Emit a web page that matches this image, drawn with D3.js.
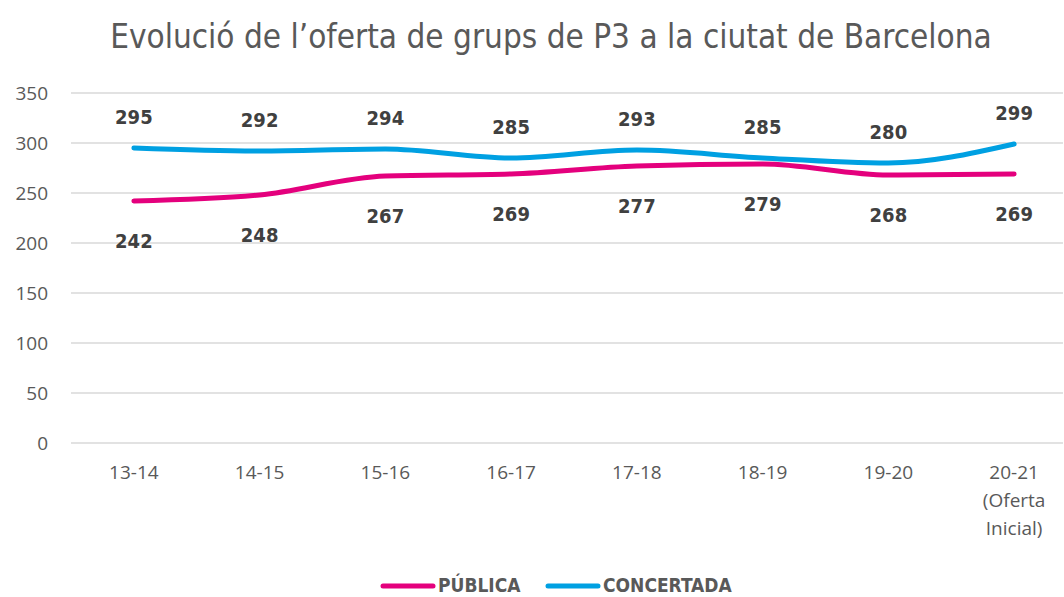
<!DOCTYPE html>
<html><head><meta charset="utf-8">
<script src="https://cdn.jsdelivr.net/npm/d3@7"></script>
<style>body{margin:0;background:#fff}</style>
</head><body>
<svg id="c" width="1064" height="597"></svg>
<script>
const categories = ["13-14","14-15","15-16","16-17","17-18","18-19","19-20","20-21"];
const categorySub = ["","","","","","","","(Oferta|Inicial)"];
const publica = [242,248,267,269,277,279,268,269];
const concertada = [295,292,294,285,293,285,280,299];
const yTicks = [0,50,100,150,200,250,300,350];
const seriesNames = ["PÚBLICA","CONCERTADA"];
const colors = ["#E4007D","#00A0E2"];

const svg = d3.select("#c");
const x = d3.scaleBand().domain(categories).range([71,1077]);
const y = d3.scaleLinear().domain([0,350]).range([443,93]);
const cx = c => x(c) + x.bandwidth()/2;

svg.append("text").attr("x",551).attr("y",48).attr("text-anchor","middle")
  .attr("font-family","DejaVu Sans Condensed, Liberation Sans Narrow, sans-serif")
  .attr("font-size",33).attr("fill","#595959").text("Evolució de l’oferta de grups de P3 a la ciutat de Barcelona");

const yAxis = d3.axisLeft(y).tickValues(yTicks).tickSize(0).tickPadding(0);
const gy = svg.append("g").attr("transform","translate(48,0)").call(yAxis);
gy.select(".domain").remove();
gy.selectAll("text").attr("font-family","Open Sans, sans-serif").attr("font-size",19).attr("fill","#595959");

svg.append("g").selectAll("line").data(yTicks).join("line")
  .attr("x1",71).attr("x2",1063).attr("y1",d=>y(d)).attr("y2",d=>y(d))
  .attr("stroke","#D9D9D9").attr("stroke-width",1.5);

const xAxis = d3.axisBottom(x).tickSize(0).tickPadding(0);
const gx = svg.append("g").attr("transform","translate(0,479)").call(xAxis);
gx.select(".domain").remove();
gx.selectAll("text").attr("font-family","Open Sans, sans-serif").attr("font-size",19).attr("fill","#595959").attr("dy",0);
gx.selectAll(".tick").each(function(d,i){
  const parts = categorySub[i] ? categorySub[i].split("|") : [];
  parts.forEach((p,j)=>{
    d3.select(this).append("text").attr("y",(j+1)*28).attr("text-anchor","middle")
      .attr("font-family","Open Sans, sans-serif").attr("font-size",19).attr("fill","#595959").text(p);
  });
});

const line = d3.line().x((d,i)=>cx(categories[i])).y(d=>y(d)).curve(d3.curveMonotoneX);
[publica,concertada].forEach((s,k)=>{
  svg.append("path").datum(s).attr("d",line).attr("fill","none")
    .attr("stroke",colors[k]).attr("stroke-width",5).attr("stroke-linecap","round");
});

const lblFont = "DejaVu Sans Condensed, sans-serif";
svg.append("g").selectAll("text").data(concertada).join("text")
  .attr("x",(d,i)=>cx(categories[i])).attr("y",d=>y(d)-24).attr("text-anchor","middle")
  .attr("font-family",lblFont).attr("font-weight","bold").attr("font-size",20).attr("fill","#404040").text(d=>d);
svg.append("g").selectAll("text").data(publica).join("text")
  .attr("x",(d,i)=>cx(categories[i])).attr("y",d=>y(d)+47).attr("text-anchor","middle")
  .attr("font-family",lblFont).attr("font-weight","bold").attr("font-size",20).attr("fill","#404040").text(d=>d);

const legX = [381,546];
seriesNames.forEach((n,k)=>{
  svg.append("line").attr("x1",legX[k]+2).attr("x2",legX[k]+52).attr("y1",586).attr("y2",586)
    .attr("stroke",colors[k]).attr("stroke-width",5).attr("stroke-linecap","round");
  svg.append("text").attr("x",legX[k]+57).attr("y",592).attr("font-family",lblFont)
    .attr("font-weight","bold").attr("font-size",19).attr("fill","#595959").text(n);
});
</script>
</body></html>
